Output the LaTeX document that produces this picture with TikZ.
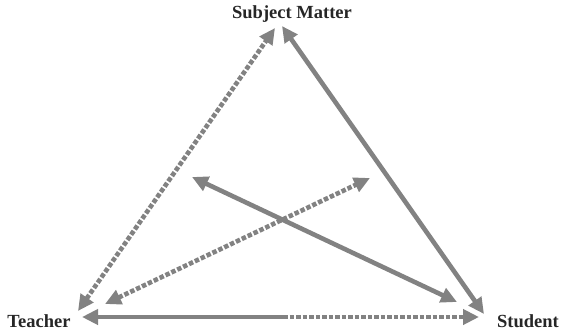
\documentclass[tikz,border=0pt]{standalone}
\usepackage{fontspec}
\setmainfont{Liberation Serif}
\usetikzlibrary{arrows.meta}
\definecolor{linegray}{HTML}{828282}
\tikzset{
  tip/.tip={Triangle[length=16pt,width=15pt]},
  conn/.style={draw=linegray, line width=4.6pt, {tip}-{tip}},
  halfl/.style={draw=linegray, line width=4.6pt, {tip}-},
  halfr/.style={draw=linegray, line width=4.6pt, -{tip}},
  dotted line/.style={dash pattern=on 4.5pt off 2pt},
  lbl/.style={font=\fontsize{18.5}{20}\selectfont\bfseries, inner sep=0pt, text=black!85}
}
\begin{document}
\begin{tikzpicture}[x=1pt,y=-1pt]
\useasboundingbox (0,0) rectangle (561,332);
\node[lbl] (sm) at (292,14) {Subject Matter};
\node[lbl] (teacher) at (39,321) {Teacher};
\node[lbl] (student) at (528,321) {Student};
% endpoints
\coordinate (smA) at (275,28);
\coordinate (tA) at (78,311);
\coordinate (smB) at (282,26);
\coordinate (sB) at (484,314);
\coordinate (tC) at (82,317);
\coordinate (mC) at (283,317);
\coordinate (sC) at (479,317);
\coordinate (x1) at (192,177);
\coordinate (x2) at (457,302);
\coordinate (y1) at (370,178);
\coordinate (y2) at (105,304);
\draw[conn, dotted line] (tA) -- (smA);
\draw[conn] (smB) -- (sB);
\draw[halfl] (tC) -- (mC);
\draw[halfr, dotted line] (mC) -- (sC);
\draw[conn] (x1) -- (x2);
\draw[conn, dotted line] (y2) -- (y1);
\end{tikzpicture}
\end{document}
